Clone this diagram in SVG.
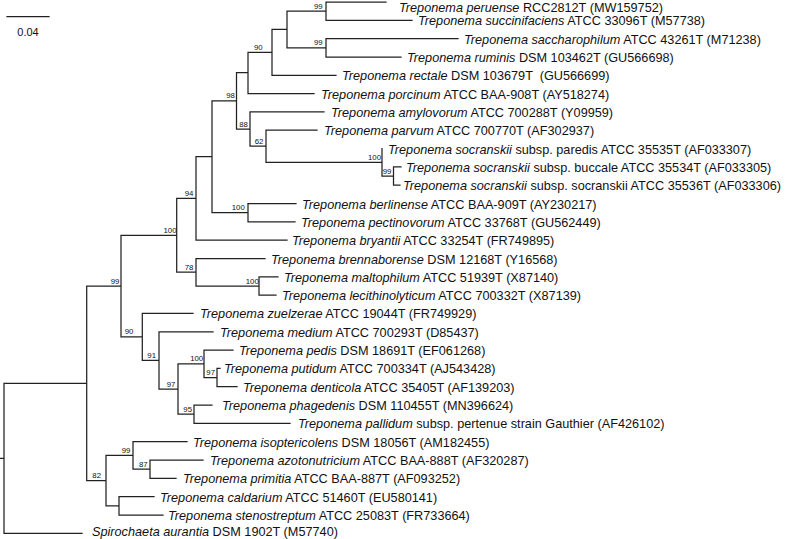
<svg xmlns="http://www.w3.org/2000/svg" width="787" height="539" viewBox="0 0 787 539">
<style>
.br{fill:none;stroke:#222;stroke-width:1.25;stroke-linecap:square}
.tx{font-family:"Liberation Sans",Arial,sans-serif;font-size:12.7px;fill:#111}
.it{font-style:italic}
.bs{font-family:"Liberation Sans",Arial,sans-serif;font-size:7.8px;fill:#111;text-anchor:middle}
.sc{font-family:"Liberation Sans",Arial,sans-serif;font-size:11px;fill:#111;text-anchor:middle}
</style>
<rect width="787" height="539" fill="#fff"/>
<g id="scale-bar">
<path class="br" d="M7 16.7H49"/>
<text class="sc" x="28" y="35.5">0.04</text>
</g>
<g id="connectors">
<path class="br" d="M0 458.3H4M4 383.3V533.3M4 383.3H86.7M86.7 286.1V480.6M4 533.3H82
M86.7 286.1H121M121 235.3V336.9M121 235.3H176.7M176.7 198.4V272.2M176.7 198.4H196M196 156.7V240.2M196 240.2H287
M196 156.7H212M212 100.8V212.7M212 100.8H236.5M236.5 72.6V129M236.5 72.6H248M248 52.3V93.6M248 93.6H314
M248 52.3H272M272 29.4V75.3M272 75.3H336M272 29.4H287M287 11.2V47.8M287 11.2H326M326 2V20.3M326 2H386M326 20.3H412
M287 47.8H326M326 38.6V57M326 38.6H458M326 57H401
M236.5 129H250M250 111.9V146.2M250 111.9H324M250 146.2H266M266 130.2V162.3M266 130.2H317
M266 162.3H382M382 148.6V176.05M382 176.05H393.5M393.5 166.9V185.2M393.5 166.9H401M393.5 185.2H400
M212 212.7H248M248 203.5V221.8M248 203.5H296M248 221.8H295
M176.7 272.2H196M196 258.5V286M196 258.5H265M196 286H259M259 276.8V295.1M259 276.8H278M259 295.1H276
M121 336.9H142.3M142.3 313.4V360.4M142.3 313.4H193M142.3 360.4H159M159 331.8V389M159 331.8H213
M159 389H178M178 363.8V414.2M178 363.8H204M204 350.1V377.6M204 350.1H233M204 377.6H217M217 368.4V386.7M217 368.4H220M217 386.7H237
M178 414.2H194M194 405V423.4M194 405H212M194 423.4H290
M86.7 480.6H106M106 455.4V505.8M106 455.4H133M133 441.7V469.2M133 441.7H187M133 469.2H150M150 460V478.3M150 460H203M150 478.3H176
M106 505.8H119M119 496.6V515M119 496.6H154M119 515H163"/>
</g>
<g id="support-values">
<text class="bs" x="318.3" y="8.7">99</text>
<text class="bs" x="318.3" y="45.3">99</text>
<text class="bs" x="258.3" y="49.8">90</text>
<text class="bs" x="230.5" y="98.3">98</text>
<text class="bs" x="243.5" y="126.5">88</text>
<text class="bs" x="259" y="143.7">62</text>
<text class="bs" x="374.5" y="159.8">100</text>
<text class="bs" x="387" y="173.6">99</text>
<text class="bs" x="189" y="195.9">94</text>
<text class="bs" x="238.3" y="210.2">100</text>
<text class="bs" x="170" y="232.8">100</text>
<text class="bs" x="189" y="269.7">78</text>
<text class="bs" x="252.3" y="283.5">100</text>
<text class="bs" x="115" y="283.6">99</text>
<text class="bs" x="129" y="334.4">90</text>
<text class="bs" x="151.7" y="357.9">91</text>
<text class="bs" x="196.7" y="361.3">100</text>
<text class="bs" x="210.7" y="375.1">97</text>
<text class="bs" x="171" y="386.5">97</text>
<text class="bs" x="187.7" y="411.7">95</text>
<text class="bs" x="126" y="452.9">99</text>
<text class="bs" x="143.3" y="466.7">87</text>
<text class="bs" x="96.7" y="478.1">82</text>
</g>
<g id="t-peruense"><text class="tx" x="399" y="11.5"><tspan class="it">Treponema peruense</tspan> RCC2812T (MW159752)</text></g>
<g id="t-succinifaciens"><text class="tx" x="418" y="25.3"><tspan class="it">Treponema succinifaciens</tspan> ATCC 33096T (M57738)</text></g>
<g id="t-saccharophilum"><text class="tx" x="464" y="43.6"><tspan class="it">Treponema saccharophilum</tspan> ATCC 43261T (M71238)</text></g>
<g id="t-ruminis"><text class="tx" x="407" y="62"><tspan class="it">Treponema ruminis</tspan> DSM 103462T (GU566698)</text></g>
<g id="t-rectale"><text class="tx" x="342" y="80.3"><tspan class="it">Treponema rectale</tspan> DSM 103679T &#160;(GU566699)</text></g>
<g id="t-porcinum"><text class="tx" x="321" y="98.6"><tspan class="it">Treponema porcinum</tspan> ATCC BAA-908T (AY518274)</text></g>
<g id="t-amylovorum"><text class="tx" x="331" y="116.9"><tspan class="it">Treponema amylovorum</tspan> ATCC 700288T (Y09959)</text></g>
<g id="t-parvum"><text class="tx" x="324" y="135.2"><tspan class="it">Treponema parvum</tspan> ATCC 700770T (AF302937)</text></g>
<g id="t-paredis"><text class="tx" x="388" y="153.6"><tspan class="it">Treponema socranskii</tspan> subsp. paredis ATCC 35535T (AF033307)</text></g>
<g id="t-buccale"><text class="tx" x="406" y="171.9"><tspan class="it">Treponema socranskii</tspan> subsp. buccale ATCC 35534T (AF033305)</text></g>
<g id="t-socranskii"><text class="tx" x="403" y="190.2"><tspan class="it">Treponema socranskii</tspan> subsp. socranskii ATCC 35536T (AF033306)</text></g>
<g id="t-berlinense"><text class="tx" x="302" y="208.5"><tspan class="it">Treponema berlinense</tspan> ATCC BAA-909T (AY230217)</text></g>
<g id="t-pectinovorum"><text class="tx" x="301" y="226.8"><tspan class="it">Treponema pectinovorum</tspan> ATCC 33768T (GU562449)</text></g>
<g id="t-bryantii"><text class="tx" x="292" y="245.2"><tspan class="it">Treponema bryantii</tspan> ATCC 33254T (FR749895)</text></g>
<g id="t-brennaborense"><text class="tx" x="271" y="263.5"><tspan class="it">Treponema brennaborense</tspan> DSM 12168T (Y16568)</text></g>
<g id="t-maltophilum"><text class="tx" x="284" y="281.8"><tspan class="it">Treponema maltophilum</tspan> ATCC 51939T (X87140)</text></g>
<g id="t-lecithinolyticum"><text class="tx" x="282" y="300.1"><tspan class="it">Treponema lecithinolyticum</tspan> ATCC 700332T (X87139)</text></g>
<g id="t-zuelzerae"><text class="tx" x="200" y="318.4"><tspan class="it">Treponema zuelzerae</tspan> ATCC 19044T (FR749929)</text></g>
<g id="t-medium"><text class="tx" x="220" y="336.8"><tspan class="it">Treponema medium</tspan> ATCC 700293T (D85437)</text></g>
<g id="t-pedis"><text class="tx" x="239" y="355.1"><tspan class="it">Treponema pedis</tspan> DSM 18691T (EF061268)</text></g>
<g id="t-putidum"><text class="tx" x="224" y="373.4"><tspan class="it">Treponema putidum</tspan> ATCC 700334T (AJ543428)</text></g>
<g id="t-denticola"><text class="tx" x="243" y="391.7"><tspan class="it">Treponema denticola</tspan> ATCC 35405T (AF139203)</text></g>
<g id="t-phagedenis"><text class="tx" x="222" y="410"><tspan class="it">Treponema phagedenis</tspan> DSM 110455T (MN396624)</text></g>
<g id="t-pallidum"><text class="tx" x="298" y="428.4"><tspan class="it">Treponema pallidum</tspan> subsp. pertenue strain Gauthier (AF426102)</text></g>
<g id="t-isoptericolens"><text class="tx" x="193" y="446.7"><tspan class="it">Treponema isoptericolens</tspan> DSM 18056T (AM182455)</text></g>
<g id="t-azotonutricium"><text class="tx" x="210" y="465"><tspan class="it">Treponema azotonutricium</tspan> ATCC BAA-888T (AF320287)</text></g>
<g id="t-primitia"><text class="tx" x="183" y="483.3"><tspan class="it">Treponema primitia</tspan> ATCC BAA-887T (AF093252)</text></g>
<g id="t-caldarium"><text class="tx" x="160" y="501.6"><tspan class="it">Treponema caldarium</tspan> ATCC 51460T (EU580141)</text></g>
<g id="t-stenostreptum"><text class="tx" x="168" y="520"><tspan class="it">Treponema stenostreptum</tspan> ATCC 25083T (FR733664)</text></g>
<g id="t-aurantia"><text class="tx" x="92" y="535.8"><tspan class="it">Spirochaeta aurantia</tspan> DSM 1902T (M57740)</text></g>
</svg>
